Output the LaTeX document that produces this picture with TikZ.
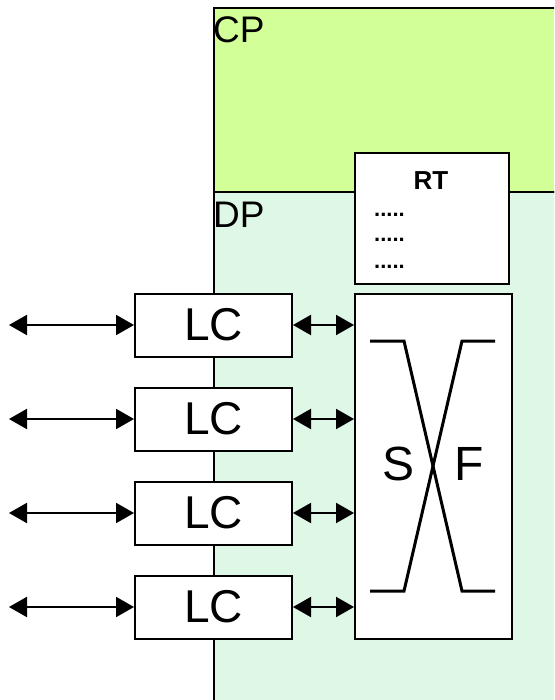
\documentclass[tikz,border=0pt]{standalone}
\usepackage{fontspec}
\setmainfont{Liberation Sans}
\usepackage{xcolor}
\usetikzlibrary{arrows.meta,positioning}
\definecolor{cpgreen}{HTML}{D3FF98}
\definecolor{dpgreen}{HTML}{DEF7E7}

\begin{document}
\begin{tikzpicture}[
    x=1pt, y=-1pt,
    node distance=29pt,
    plane/.style={draw, line width=2pt, anchor=north west, minimum width=360pt, inner sep=0pt},
    planelabel/.style={anchor=base west, inner sep=0pt, font=\fontsize{37}{37}\selectfont},
    linecard/.style={draw, line width=2pt, fill=white, minimum width=157pt, minimum height=63pt, inner sep=0pt, font=\fontsize{46}{46}\selectfont},
    box/.style={draw, line width=2pt, fill=white, anchor=north west, inner sep=0pt},
    arrow/.style={{Triangle[length=18pt,width=20pt]}-{Triangle[length=18pt,width=20pt]}, line width=2pt}
]
\useasboundingbox (0,0) rectangle (554,700);
\clip (0,0) rectangle (554,700);
% planes
\node[plane, fill=dpgreen, minimum height=530pt] (dp) at (213,191) {};
\node[plane, fill=cpgreen, minimum height=184pt] (cp) at (213,7) {};
\node[planelabel] (cplabel) at (213,43) {CP};
\node[planelabel] (dplabel) at (213,228) {DP};
% routing table
\node[box, minimum width=154pt, minimum height=131pt] (rt) at (354,152) {};
\node[font=\fontsize{26}{26}\selectfont\bfseries, anchor=base] (rtlabel) at (431,190) {RT};
\foreach \y [count=\i] in {217,242,268} {
    \node[anchor=base west, inner sep=0pt, font=\fontsize{22}{22}\selectfont\bfseries] (dots\i) at (374,\y) {.....};
}
% switch fabric
\node[box, minimum width=157pt, minimum height=345pt] (sf) at (354,293) {};
\draw[line width=3pt] (370,341) -- (404,341) -- (462,591) -- (495,591);
\draw[line width=3pt] (495,341) -- (462,341) -- (404,591) -- (370,591);
\node[anchor=base, font=\fontsize{48}{48}\selectfont] (s) at (399,480) {S};
\node[anchor=base, font=\fontsize{48}{48}\selectfont] (f) at (469,480) {F};
% line cards
\node[linecard] (lc1) at (213.5,325) {LC};
\node[linecard, below=of lc1] (lc2) {LC};
\node[linecard, below=of lc2] (lc3) {LC};
\node[linecard, below=of lc3] (lc4) {LC};
\foreach \c in {lc1,lc2,lc3,lc4} {
    \coordinate (\c-in) at ([xshift=-125pt]\c.west);
    \draw[arrow] (\c-in) -- (\c.west);
    \draw[arrow] (\c.east) -- (\c.east -| sf.west);
}
\end{tikzpicture}
\end{document}
